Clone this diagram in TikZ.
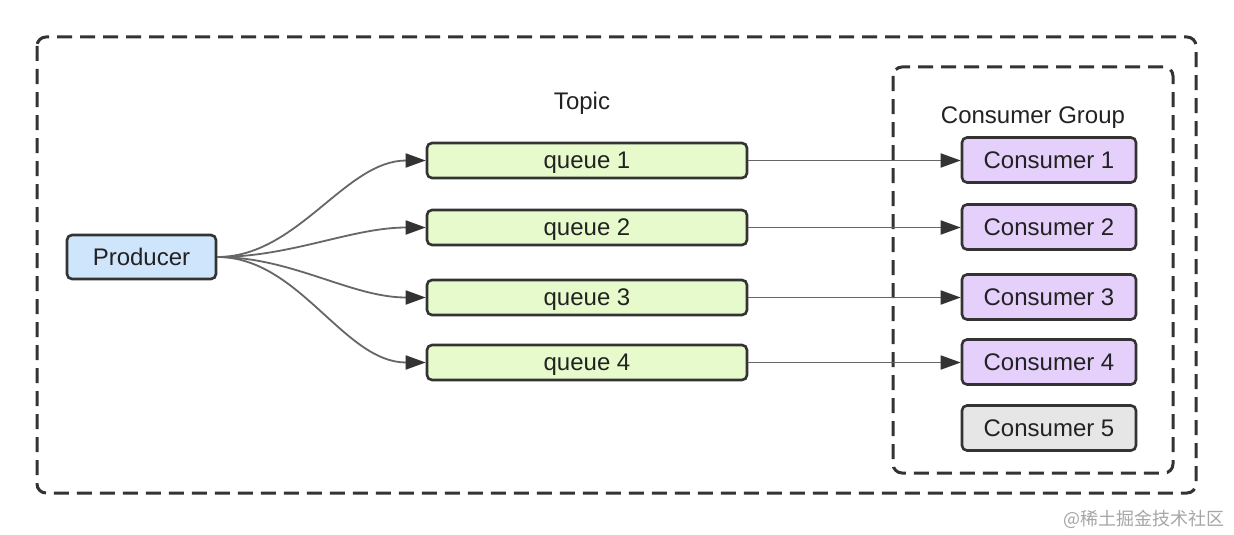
\documentclass[tikz,border=0pt]{standalone}
\usepackage{fontspec}
\setmainfont{Liberation Sans}
\newfontfamily\cjk{Noto Sans CJK SC}
\usetikzlibrary{arrows.meta}
\definecolor{edge}{HTML}{333333}
\definecolor{lineg}{HTML}{666666}
\definecolor{prodfill}{HTML}{CFE5FB}
\definecolor{queuefill}{HTML}{E6FACB}
\definecolor{consfill}{HTML}{E5CFFB}
\definecolor{idlefill}{HTML}{E6E6E6}
\definecolor{txt}{HTML}{222222}
\begin{document}
\begin{tikzpicture}[x=1pt,y=-1pt,
  every node/.style={font=\fontsize{24}{28}\selectfont, text=txt},
  boxbase/.style={draw=edge, line width=2.6pt, rounded corners=5pt, inner sep=0pt, anchor=center, text depth=0pt},
  prodbox/.style={boxbase, fill=prodfill, minimum width=149pt, minimum height=44pt},
  queuebox/.style={boxbase, fill=queuefill, minimum width=320pt, minimum height=35pt},
  consbox/.style={boxbase, fill=consfill, minimum width=174pt, minimum height=45pt},
  idlebox/.style={boxbase, fill=idlefill, minimum width=174pt, minimum height=45pt},
  frame/.style={draw=edge, line width=3pt, dash pattern=on 15pt off 8pt, rounded corners=9pt},
  flow/.style={draw=lineg, line width=1.8pt, -{Triangle[length=20pt,width=14pt,fill=edge,color=edge]}},
  label/.style={font=\fontsize{24}{28}\selectfont}
]
\useasboundingbox (0,0) rectangle (1234,535);
\fill[white] (0,0) rectangle (1234,535);
\draw[frame] (37,37) rectangle (1196,493);
\draw[frame] (893,67) rectangle (1173,473);

\node[label] (topic) at (582,103) {Topic};
\node[label] (cg) at (1033,118) {Consumer Group};

\node[prodbox] (p) at (141.5,257) {Producer};

\node[queuebox] (q1) at (587,160.5) {queue 1};
\node[queuebox] (q2) at (587,227.5) {queue 2};
\node[queuebox] (q3) at (587,297.5) {queue 3};
\node[queuebox] (q4) at (587,362.5) {queue 4};

\node[consbox] (c1) at (1049,160) {Consumer 1};
\node[consbox] (c2) at (1049,227) {Consumer 2};
\node[consbox] (c3) at (1049,297) {Consumer 3};
\node[consbox] (c4) at (1049,362) {Consumer 4};
\node[idlebox] (c5) at (1049,428) {Consumer 5};

\foreach \i in {1,2,3,4}{
  \draw[flow] (p.east) to[out=0,in=180,looseness=0.9] (q\i.west);
  \draw[flow] (q\i.east) -- (q\i.east -| c\i.west);
}

\node[font=\cjk\fontsize{18}{21}\selectfont, text=black!35, anchor=east] (wm) at (1228,519) {@稀土掘金技术社区};
\end{tikzpicture}
\end{document}
